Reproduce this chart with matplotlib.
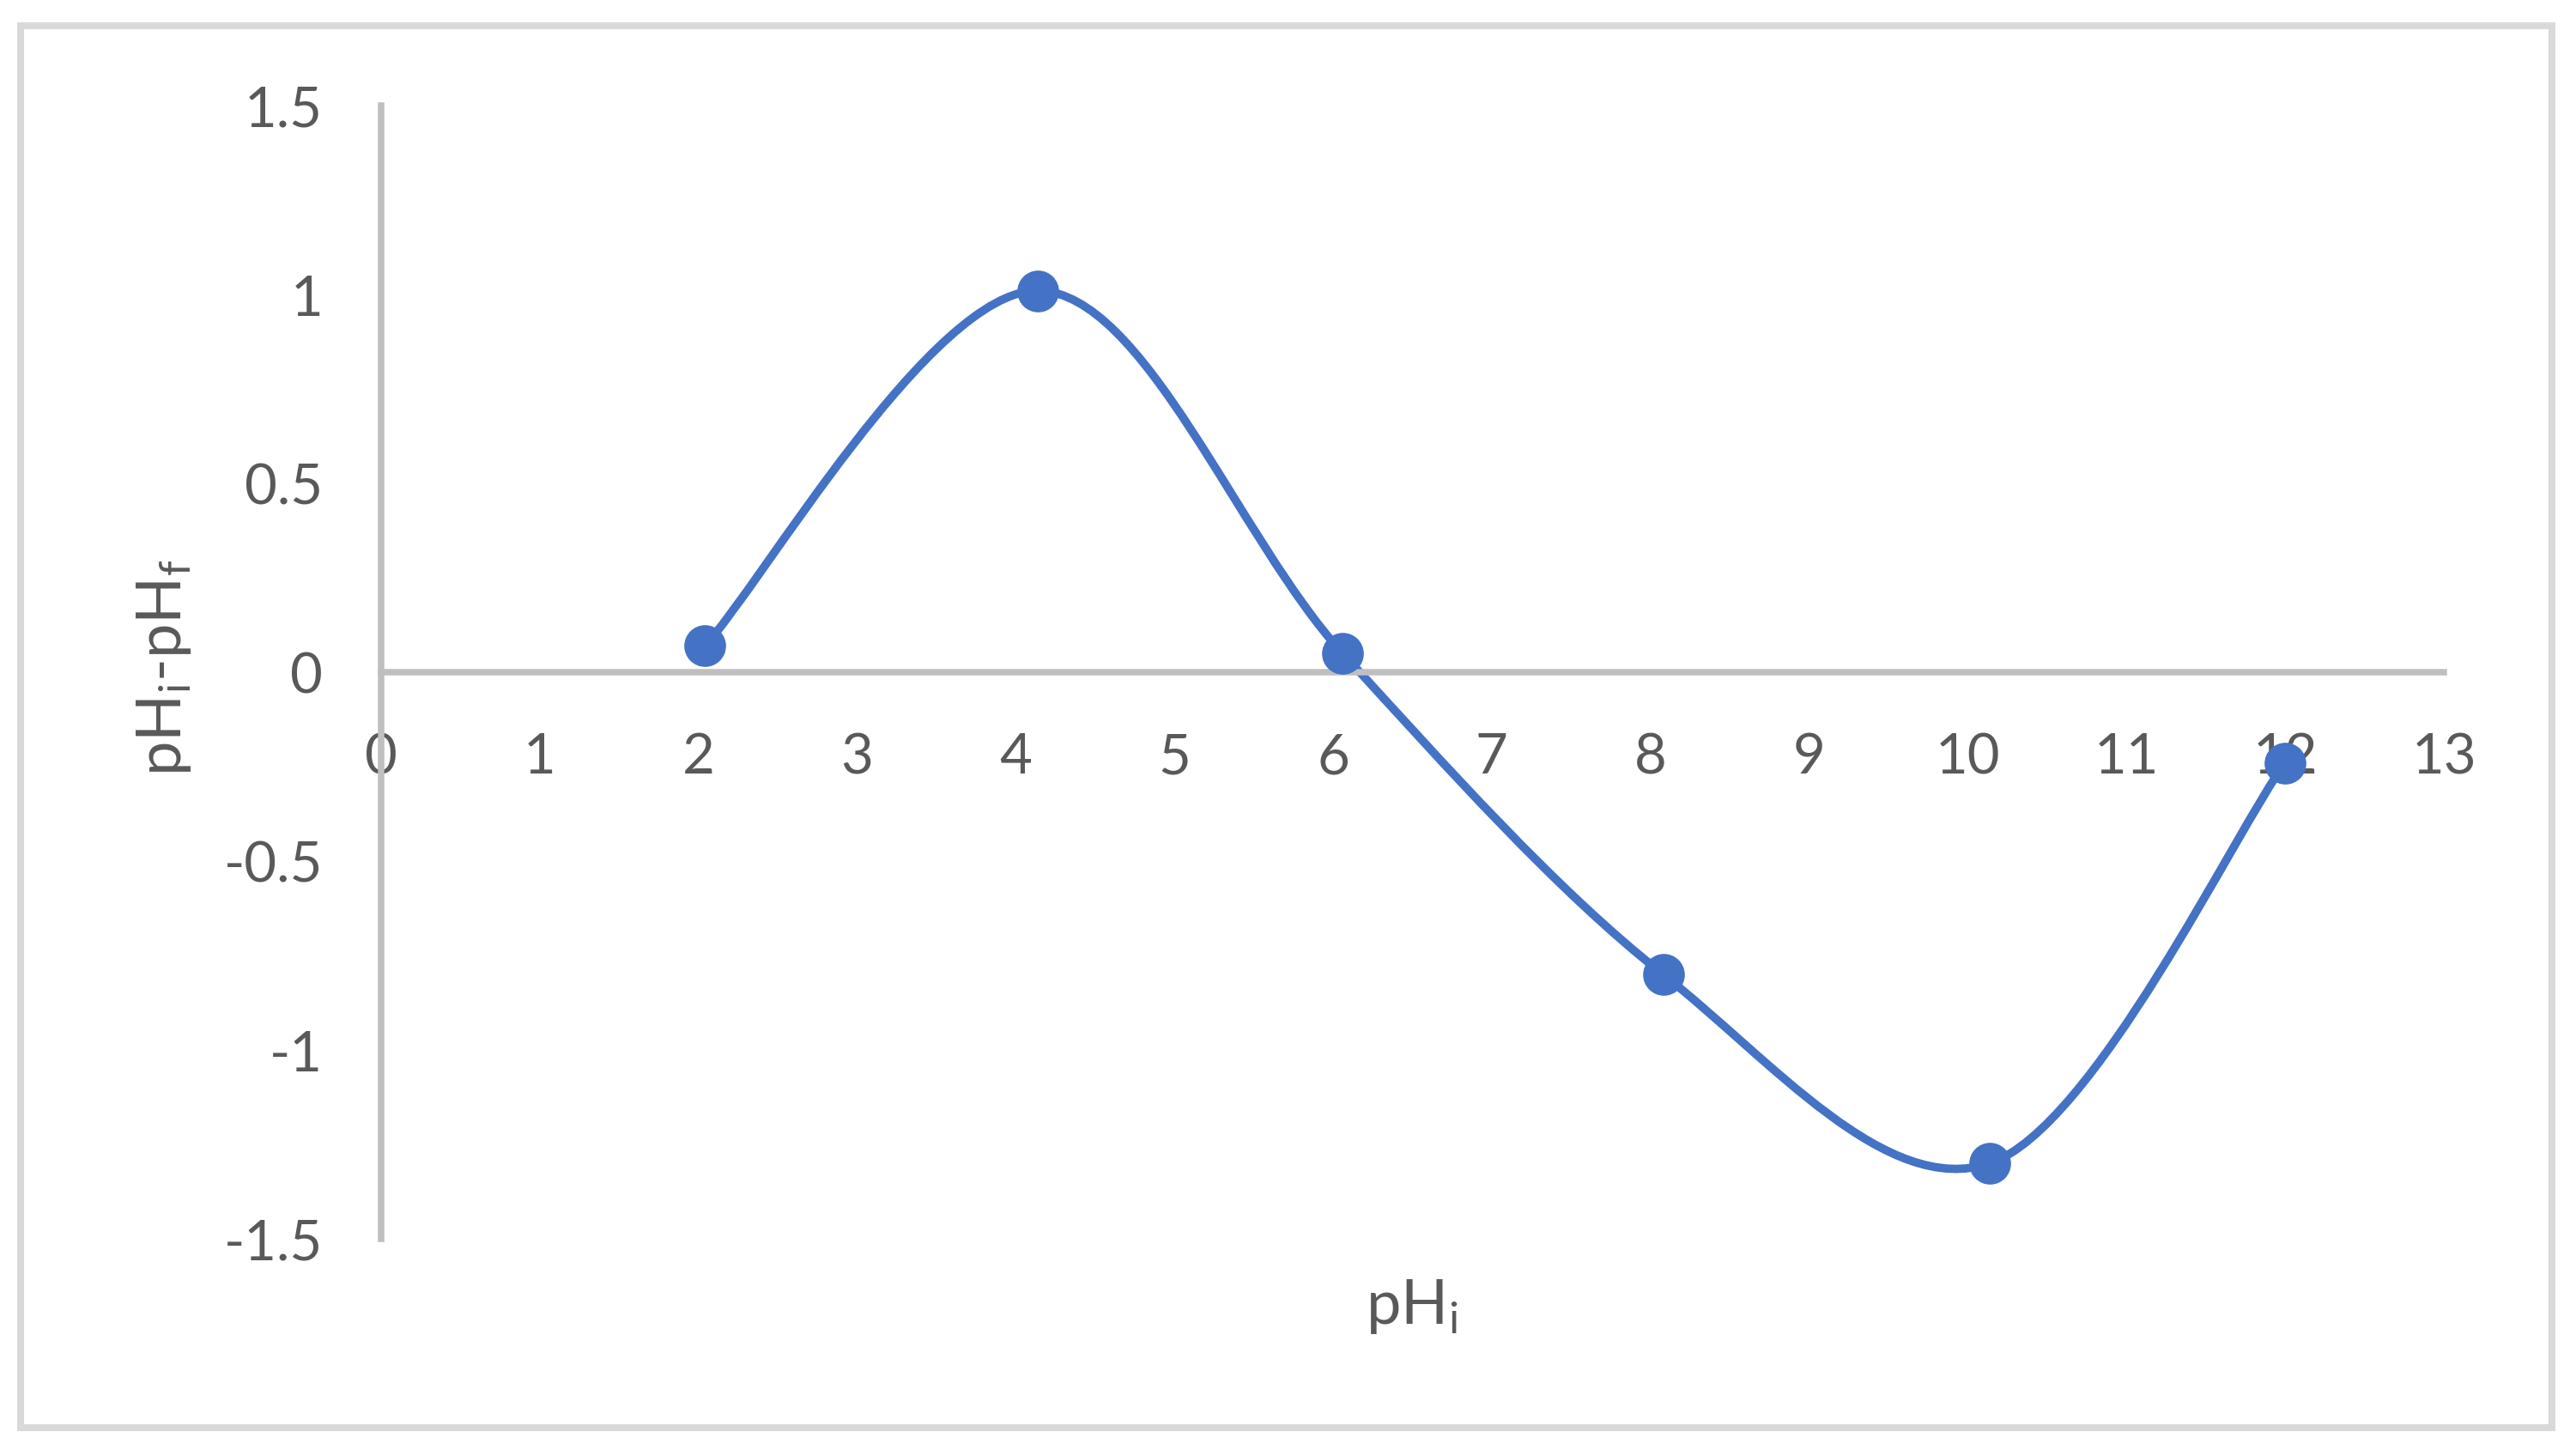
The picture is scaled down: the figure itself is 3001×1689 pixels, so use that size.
import numpy as np
import matplotlib
matplotlib.use('Agg')
import matplotlib.pyplot as plt
from matplotlib.path import Path
from matplotlib.patches import PathPatch, Rectangle

plt.rcParams['font.family'] = ['Lato', 'DejaVu Sans']
plt.rcParams['mathtext.fontset'] = 'custom'
plt.rcParams['mathtext.rm'] = 'Lato'

# data
ph_i = [2.04, 4.14, 6.06, 8.08, 10.14, 12.0]
delta_ph = [0.07, 1.01, 0.05, -0.80, -1.30, -0.24]

xticks = list(range(0, 14))
yticks = [-1.5, -1, -0.5, 0, 0.5, 1, 1.5]
ytick_labels = ['-1.5', '-1', '-0.5', '0', '0.5', '1', '1.5']

blue = '#4472C4'
grey_axis = '#BFBFBF'
grey_txt = '#595959'


def smooth_path(x, y):
    # excel style smoothed line: catmull-rom pieces as cubic beziers
    pts = np.column_stack([x, y])
    ext = np.vstack([pts[0], pts, pts[-1]])
    verts = [pts[0]]
    codes = [Path.MOVETO]
    for i in range(1, len(ext) - 2):
        p0, p1, p2, p3 = ext[i-1], ext[i], ext[i+1], ext[i+2]
        c1 = p1 + (p2 - p0) / 6.0
        c2 = p2 - (p3 - p1) / 6.0
        verts += [c1, c2, p2]
        codes += [Path.CURVE4] * 3
    return Path(verts, codes)


W, H = 3001, 1690
fig = plt.figure(figsize=(W/100, H/100), dpi=100)
ax = fig.add_axes([444/W, 1 - 1444/H, (2847-444)/W, (1444-124)/H])

ax.set_xlim(0, 13)
ax.set_ylim(-1.5, 1.5)

ax.spines['top'].set_visible(False)
ax.spines['right'].set_visible(False)
ax.spines['bottom'].set_position(('data', 0))
for s in ['left', 'bottom']:
    ax.spines[s].set_color(grey_axis)
    ax.spines[s].set_linewidth(5.4)

ax.set_xticks(xticks)
ax.set_xticklabels([str(t) for t in xticks])
ax.set_yticks(yticks)
ax.set_yticklabels(ytick_labels)
ax.tick_params(length=0, labelsize=47, labelcolor=grey_txt)
ax.tick_params(axis='x', pad=50)
ax.tick_params(axis='y', pad=49)

curve = PathPatch(smooth_path(ph_i, delta_ph), facecolor='none',
                  edgecolor=blue, lw=7, capstyle='round', zorder=2)
ax.add_patch(curve)
ax.plot(ph_i, delta_ph, 'o', ms=34, color=blue, zorder=3, clip_on=False)

fig.text(1645/W, 1 - 1522/H, 'pH$_\\mathregular{i}$', ha='center', va='center',
         fontsize=52, color=grey_txt)
fig.text(191/W, 1 - 778/H, 'pH$_\\mathregular{i}$-pH$_\\mathregular{f}$', ha='center',
         va='center', rotation=90, fontsize=52, color=grey_txt)

# outer chart border
fig.patches.append(Rectangle((24/W, 1 - 1664/H), (2973-24)/W, (1664-31)/H,
                             transform=fig.transFigure, fill=False,
                             edgecolor='#D9D9D9', lw=5.8))

plt.savefig('out.png', dpi=100)
